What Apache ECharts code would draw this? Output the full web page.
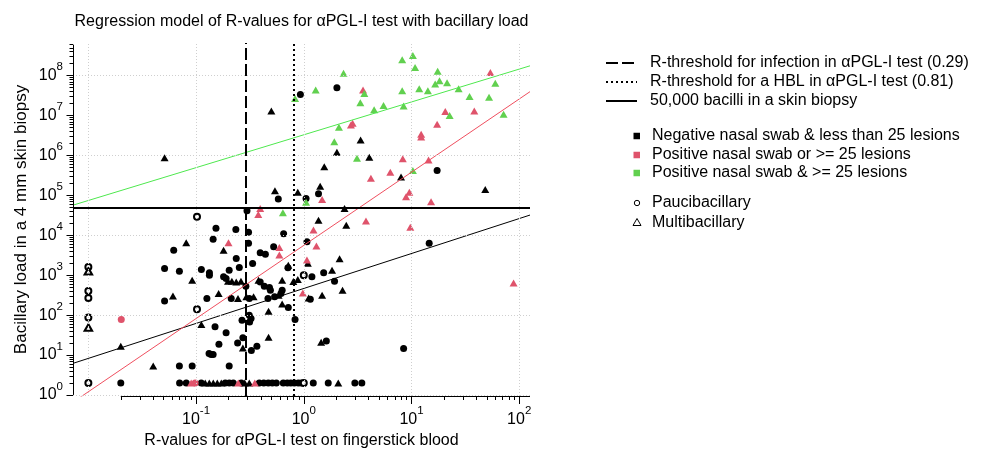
<!DOCTYPE html>
<html><head><meta charset="utf-8">
<script src="https://cdn.jsdelivr.net/npm/echarts@6/dist/echarts.min.js"></script>
<style>html,body{margin:0;padding:0;background:#fff}#c{width:986px;height:450px}</style>
</head><body><div id="c"></div>
<script>
// ---- data: [R-value, bacillary load] ----
const blackCircles = [
[0.93,3.4e7],[2.03,5.0e7],[0.58,8.1e4],[1.05,8.4e4],[1.37,1.1e5],[0.297,4.1e4],[17.3,4.2e5],
[0.153,1.5e4],[0.234,1.4e4],[0.307,1.2e4],[0.65,1.1e4],[0.144,8000],[0.307,6300],[0.062,4250],
[0.394,3640],[0.44,3370],[0.525,5150],[1.07,6900],[14.6,6300],[0.236,2630],[0.335,1970],[0.252,1560],
[0.713,1530],[0.051,1480],[0.070,1260],[0.112,1390],[0.133,1150],[0.133,1000],[0.18,910],[0.19,830],
[0.203,1340],[0.394,680],[0.29,530],[0.43,530],[0.48,490],[0.49,420],[1.53,1150],[1.93,710],[1.19,910],
[0.63,420],[0.051,227],[0.126,260],[0.212,260],[0.312,260],[0.465,260],[0.536,290],[0.614,350],[1.15,250],
[0.718,155],[0.312,99],[0.324,82],[0.314,67],[0.267,74],[0.15,51],[0.19,36],[0.272,27],[0.243,20],
[0.326,13],[0.367,16.6],[0.163,18.6],[0.132,10.9],[0.138,10.3],[0.144,10.3],[0.83,78],[1.62,22.5],
[8.45,14.5],[0.070,5.3],[0.092,5.3],[0.203,5.3],[0.02,2],
[0.0703,2],[0.0811,2],[0.1117,2],[0.1867,2],[0.2033,2],[0.2215,2],[0.263,2],[0.386,2],[0.425,2],
[0.468,2],[0.51,2],[0.556,2],[0.645,2],[0.703,2],[0.757,2],[0.816,2],[0.889,2],[0.948,2],[1.225,2],
[1.687,2],[2.98,2],[3.46,2]
];
const blackTriangles = [
[0.051,8.8e5],[0.50,1.3e7],[2.03,1.2e6],[1.55,5.2e5],[1.42,1.7e5],[0.54,1.3e5],[0.88,1.2e5],[1.37,2.4e4],
[3.37,2.45e6],[4.06,9.0e5],[8.0,2.9e5],[48.4,1.4e5],[2.39,4.7e4],[2.48,1.8e4],[0.081,6500],[0.18,4250],
[0.718,1790],[1.09,2000],[2.15,2600],[1.83,1340],[0.092,750],[0.198,710],[0.215,710],[0.236,680],
[0.261,710],[0.38,750],[0.63,750],[0.80,700],[0.88,780],[0.061,300],[0.162,350],[0.245,260],[0.293,290],
[0.342,290],[0.583,315],[1.11,270],[1.48,315],[2.29,420],[0.63,190],[0.471,125],[0.112,58],[0.272,15],
[0.471,28],[1.45,21],[0.02,16.6],[0.040,5.3],
[0.1216,2],[0.1327,2],[0.1445,2],[0.1574,2],[0.1714,2],[0.283,2],[0.312,2],[2.09,2]
];
const openCircles = [[0.01,1600],[0.01,405],[0.01,270],[0.01,87],[0.01,2],[0.102,2.9e4],[0.102,140],[1.0,1000],[1.0,2]];
const openTriangles = [[0.01,1260],[0.01,49]];
const redCircles = [[0.0202,78],[0.098,2]];
const redTriangles = [
[1.48,7.9e4],[0.394,4.7e4],[0.378,3.3e4],[3.55,4.4e7],[54,1.2e8],[20.6,1.26e7],[38.3,1.3e7],[17.3,6.1e6],
[12.3,3.4e6],[12.3,2.9e6],[2.74,5.8e6],[2.84,6.4e6],[8.3,8.3e5],[14.4,7.7e5],[6.36,3.8e5],[4.2,2.7e5],
[9.55,1.2e5],[8.9,9.2e4],[15.2,6.9e4],[3.78,2.3e4],[9.75,1.6e4],[1.23,1.35e4],[1.31,5400],[0.20,6500],
[0.593,4970],[0.593,3190],[1.07,2400],[0.98,360],[88.7,640],[0.090,2],[0.2465,2],[0.351,2]
];
const greenTriangles = [
[0.83,2.7e7],[1.29,4.4e7],[1.92,2.2e6],[1.05,6.7e4],[0.64,3.7e4],[2.34,1.16e8],[3.65,3.6e7],[3.35,2.1e7],
[4.5,1.4e7],[5.5,1.8e7],[8.2,2.5e8],[10.3,3.2e8],[10.8,1.6e8],[8.2,4.2e7],[8.45,1.75e7],[11.8,4.7e7],
[14.2,4.2e7],[17.5,1.3e8],[16.6,6.2e7],[18.2,7.5e7],[21.4,6.7e7],[27.4,4.7e7],[34.6,3.0e7],[52.5,2.9e7],
[60,6.5e7],[71.6,1.08e7],[22.6,1.0e7],[2.12,5.1e6],[3.12,8.5e5],[10.3,4.2e5]
];
// regression fits in log10 space: [intercept, slope]
const regBlack = [2.668, 0.876];
const regRed = [3.748, 1.834];
const regGreen = [6.519, 0.823];
// thresholds
const rInfection = 0.29;
const rHBL = 0.81;
const bacilliThreshold = 50000;
// axes
const xLimits = [0.0072, 126];
const yLimits = [0.94, 6.6e8];
const xMajor = [0.1, 1, 10, 100];
const yMajor = [1, 10, 100, 1e3, 1e4, 1e5, 1e6, 1e7, 1e8];
const xGrid = [0.01, 0.1, 1, 10, 100];
const yGrid = [1, 100, 1e4, 1e6, 1e8];
const xAxisStart = 0.02;
const yAxisEnd = 6e8;

// ---- build ----
const L = Math.log10;
const XMIN = L(xLimits[0]), XMAX = L(xLimits[1]), YMIN = L(yLimits[0]), YMAX = L(yLimits[1]);
function minorTicks(lo, hi) {
  const out = [];
  for (let k = -3; k <= 9; k++) for (let m = 2; m <= 9; m++) {
    const v = m * Math.pow(10, k);
    if (v >= lo && v <= hi) out.push(L(v));
  }
  return out;
}
const xMinor = minorTicks(xAxisStart, xLimits[1]);
const yMinor = minorTicks(1, yAxisEnd);
const FONT = '"Liberation Sans", Arial, Helvetica, sans-serif';
const BLACK = '#000000', RED = '#DF536B', GREEN = '#61D04F';
const toLog = arr => arr.map(p => [L(p[0]), L(p[1])]);
const regLine = c => [[XMIN, c[0] + c[1] * XMIN], [XMAX, c[0] + c[1] * XMAX]];
const expLabel = v => '{b|10}{s|' + Math.round(v) + '}';
const rich = {
  b: {fontSize: 16, fontFamily: FONT, color: '#000'},
  s: {fontSize: 11.5, fontFamily: FONT, color: '#000', padding: [0, 0, 17, 0]}
};

function scatter(name, data, color, symbol, size, extra) {
  return Object.assign({
    name, type: 'scatter', data: toLog(data), symbol, symbolSize: size,
    itemStyle: {color, opacity: 1}, silent: true, animation: false, z: 3
  }, extra || {});
}
const option = {
  animation: false,
  textStyle: {fontFamily: FONT},
  grid: {left: 73, right: 456, top: 43, bottom: 54, containLabel: false, outerBoundsMode: 'none'},
  xAxis: [
    {type: 'value', min: XMIN, max: XMAX, position: 'bottom',
     axisLine: {show: false, onZero: false},
     axisTick: {show: true, customValues: xMinor, length: 4, lineStyle: {color: '#000', width: 1}},
     axisLabel: {show: false}, splitLine: {show: false}},
    {type: 'value', min: XMIN, max: XMAX, position: 'bottom',
     axisLine: {show: false, onZero: false},
     axisTick: {show: true, customValues: xMajor.map(L), length: 8, lineStyle: {color: '#000', width: 1}},
     axisLabel: {show: true, customValues: xMajor.map(L), formatter: expLabel, rich, margin: 9},
     splitLine: {show: false}}
  ],
  yAxis: [
    {type: 'value', min: YMIN, max: YMAX, position: 'left',
     axisLine: {show: false, onZero: false},
     axisTick: {show: true, customValues: yMinor, length: 3.5, lineStyle: {color: '#000', width: 1}},
     axisLabel: {show: false}, splitLine: {show: false}},
    {type: 'value', min: YMIN, max: YMAX, position: 'left',
     axisLine: {show: false, onZero: false},
     axisTick: {show: true, customValues: yMajor.map(L), length: 6.5, lineStyle: {color: '#000', width: 1}},
     axisLabel: {show: true, customValues: yMajor.map(L), formatter: expLabel, rich, margin: 10},
     splitLine: {show: false}}
  ],
  series: [
    {type: 'scatter', name: 'frame', data: [], silent: true, z: 1,
     markLine: {silent: true, symbol: ['none', 'none'], animation: false, label: {show: false},
       lineStyle: {color: '#cfcfcf', width: 1, type: [1, 2]},
       emphasis: {disabled: true},
       data: xGrid.map(v => ({xAxis: L(v)})).concat(yGrid.map(v => ({yAxis: L(v)}))).concat([
         [{coord: [L(xAxisStart), YMIN], lineStyle: {color: '#000', type: 'solid', width: 1}}, {coord: [XMAX, YMIN]}],
         [{coord: [XMIN, 0], lineStyle: {color: '#000', type: 'solid', width: 1}}, {coord: [XMIN, L(yAxisEnd)]}]
       ])}},
    scatter('Negative nasal swab & less than 25 lesions (P)', blackCircles, BLACK, 'circle', 7),
    scatter('Negative nasal swab & less than 25 lesions (M)', blackTriangles, BLACK, 'triangle', [8, 7]),
    scatter('Negative (P, open)', openCircles, BLACK, 'emptyCircle', 6, {itemStyle: {color: BLACK, borderColor: BLACK, borderWidth: 1.8, opacity: 1}}),
    scatter('Negative (M, open)', openTriangles, BLACK, 'emptyTriangle', [7.5, 6.5], {itemStyle: {color: BLACK, borderColor: BLACK, borderWidth: 1.8, opacity: 1}}),
    scatter('Positive nasal swab or >= 25 lesions (P)', redCircles, RED, 'circle', 7),
    scatter('Positive nasal swab or >= 25 lesions (M)', redTriangles, RED, 'triangle', [8, 7]),
    scatter('Positive nasal swab & >= 25 lesions (M)', greenTriangles, GREEN, 'triangle', [8, 7]),
    {type: 'line', name: 'fit black', data: regLine(regBlack), showSymbol: false, symbol: 'none', silent: true, z: 4,
     lineStyle: {color: BLACK, width: 1}, clip: true},
    {type: 'line', name: 'fit red', data: regLine(regRed), showSymbol: false, symbol: 'none', silent: true, z: 4,
     lineStyle: {color: '#ef4f5f', width: 1}, clip: true},
    {type: 'line', name: 'fit green', data: regLine(regGreen), showSymbol: false, symbol: 'none', silent: true, z: 4,
     lineStyle: {color: '#4ee84e', width: 1}, clip: true,
     markLine: {silent: true, symbol: ['none', 'none'], animation: false, label: {show: false},
       emphasis: {disabled: true},
       data: [
         {xAxis: L(rInfection), lineStyle: {color: '#000', width: 2, type: [12, 4]}},
         {xAxis: L(rHBL), lineStyle: {color: '#000', width: 2, type: [2, 3]}},
         {yAxis: L(bacilliThreshold), lineStyle: {color: '#000', width: 2, type: 'solid'}}
       ]}}
  ],
  graphic: []
};

// texts & legend
const g = option.graphic;
const txt = (text, x, y, size, extra) => Object.assign({type: 'text', silent: true,
  style: {text, x, y, fill: '#000', font: size + 'px ' + FONT, align: 'left', verticalAlign: 'middle'}}, extra || {});
g.push(txt('Regression model of R-values for \u03b1PGL-I test with bacillary load', 301.5, 22, 16));
g[g.length - 1].style.align = 'center';
g.push(txt('R-values for \u03b1PGL-I test on fingerstick blood', 301.5, 441, 16));
g[g.length - 1].style.align = 'center';
g.push({type: 'text', silent: true, x: 21, y: 219.5, rotation: Math.PI / 2,
  style: {text: 'Bacillary load in a 4 mm skin biopsy', x: 0, y: 0, fill: '#000', font: '17px ' + FONT, align: 'center', verticalAlign: 'middle'}});

const lineLegend = [
  ['R-threshold for infection in \u03b1PGL-I test (0.29)', [12, 4], 63],
  ['R-threshold for a HBL in \u03b1PGL-I test (0.81)', [2, 3], 82],
  ['50,000 bacilli in a skin biopsy', null, 101]
];
lineLegend.forEach(([t, dash, y]) => {
  g.push({type: 'line', silent: true, shape: {x1: 606, y1: y, x2: 637, y2: y},
    style: {stroke: '#000', lineWidth: 2, lineDash: dash || null}});
  g.push(txt(t, 650, y, 16));
});
const colorLegend = [
  ['Negative nasal swab & less than 25 lesions', BLACK, 136],
  ['Positive nasal swab or >= 25 lesions', RED, 155],
  ['Positive nasal swab & >= 25 lesions', GREEN, 173]
];
colorLegend.forEach(([t, c, y]) => {
  g.push({type: 'rect', silent: true, shape: {x: 633.5, y: y - 3.25, width: 6.5, height: 6.5}, style: {fill: c}});
  g.push(txt(t, 652, y, 16));
});
g.push({type: 'circle', silent: true, shape: {cx: 637, cy: 203, r: 2.7}, style: {fill: 'none', stroke: '#000', lineWidth: 1}});
g.push(txt('Paucibacillary', 652, 203, 16));
g.push({type: 'polygon', silent: true, shape: {points: [[637, 218.5], [633, 225.5], [641, 225.5]]}, style: {fill: 'none', stroke: '#000', lineWidth: 1}});
g.push(txt('Multibacillary', 652, 222.5, 16));

const chart = echarts.init(document.getElementById('c'), null, {renderer: 'canvas'});
chart.setOption(option);
</script>
</body></html>
